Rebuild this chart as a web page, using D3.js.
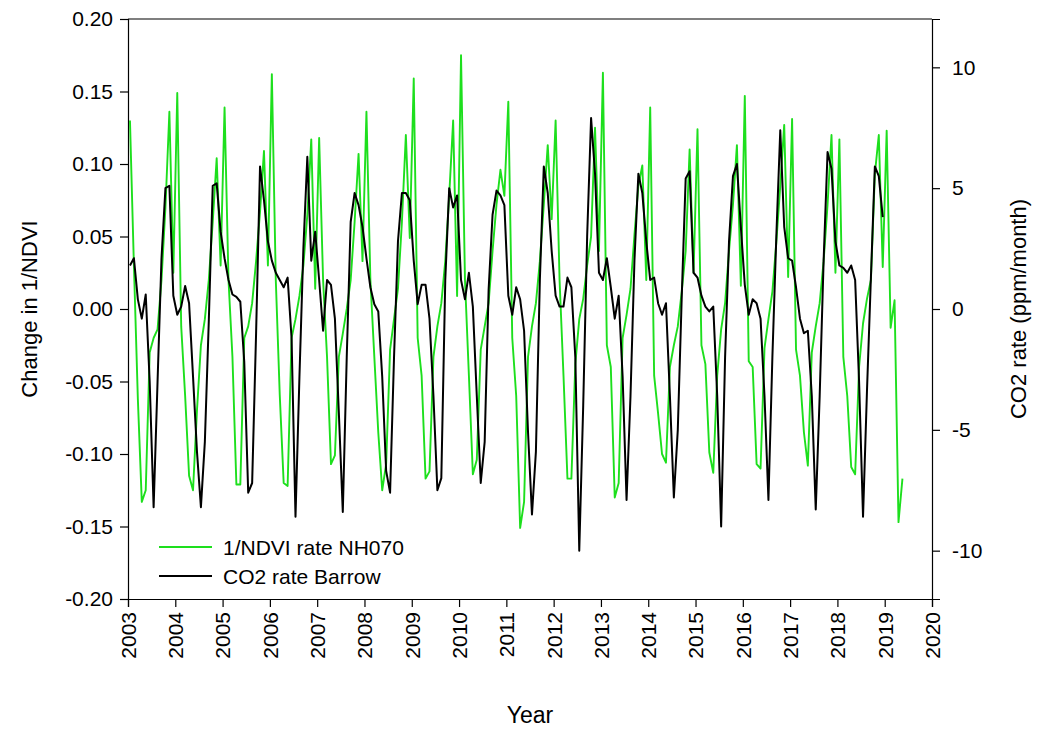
<!DOCTYPE html>
<html>
<head>
<meta charset="utf-8">
<script src="https://cdn.jsdelivr.net/npm/d3@7"></script>
<style>
  body { margin: 0; background: #fff; }
  svg text { font-family: "Liberation Sans", Arial, sans-serif; fill: #000; }
</style>
</head>
<body>
<div id="chart"></div>
<script>
// monthly series, first value = Jan 2003
var startYear = 2003;

var ndviRate = [
  0.130, 0.030, -0.062, -0.133, -0.125, -0.030, -0.020, -0.014, 0.020, 0.070, 0.136, 0.025,
  0.149, -0.012, -0.060, -0.115, -0.125, -0.070, -0.025, -0.007, 0.020, 0.060, 0.104, 0.030,
  0.139, 0.020, -0.033, -0.121, -0.121, -0.020, -0.012, 0.004, 0.033, 0.067, 0.109, 0.030,
  0.162, 0.020, -0.059, -0.120, -0.122, -0.020, -0.007, 0.009, 0.030, 0.065, 0.117, 0.014,
  0.118, 0.020, -0.033, -0.107, -0.101, -0.033, -0.017, 0.000, 0.020, 0.060, 0.107, 0.033,
  0.136, 0.020, -0.033, -0.085, -0.125, -0.107, -0.028, -0.007, 0.014, 0.060, 0.120, 0.049,
  0.159, -0.020, -0.046, -0.117, -0.112, -0.033, -0.012, 0.004, 0.033, 0.078, 0.130, 0.009,
  0.175, 0.020, -0.046, -0.114, -0.104, -0.028, -0.012, 0.004, 0.040, 0.072, 0.096, 0.078,
  0.143, -0.020, -0.060, -0.151, -0.133, -0.033, -0.012, 0.004, 0.033, 0.072, 0.113, 0.062,
  0.130, 0.020, -0.046, -0.117, -0.117, -0.038, -0.007, 0.007, 0.030, 0.050, 0.125, 0.040,
  0.163, -0.025, -0.040, -0.130, -0.120, -0.020, -0.004, 0.014, 0.051, 0.085, 0.099, 0.020,
  0.139, -0.046, -0.072, -0.100, -0.106, -0.040, -0.025, -0.012, 0.012, 0.040, 0.110, 0.025,
  0.124, -0.025, -0.038, -0.099, -0.113, -0.046, -0.014, 0.004, 0.040, 0.072, 0.113, 0.016,
  0.147, -0.036, -0.040, -0.107, -0.110, -0.027, -0.007, 0.012, 0.046, 0.085, 0.127, 0.022,
  0.131, -0.028, -0.046, -0.085, -0.108, -0.030, -0.012, 0.004, 0.033, 0.072, 0.120, 0.025,
  0.117, -0.033, -0.060, -0.109, -0.114, -0.040, -0.010, 0.007, 0.020, 0.093, 0.120, 0.029,
  0.123, -0.013, 0.006, -0.147, -0.117
];

var co2Rate = [
  1.8, 2.1, 0.4, -0.4, 0.6, -3.0, -8.2, -3.0, 2.1, 5.0, 5.1, 0.55,
  -0.24, 0.1, 0.95, 0.24, -2.8, -5.9, -8.2, -5.5, -0.5, 5.1, 5.2, 3.2,
  2.1, 1.2, 0.6, 0.5, 0.3, -2.2, -7.6, -7.2, -1.0, 5.9, 4.5, 2.8,
  2.0, 1.5, 1.2, 0.9, 1.3, -1.2, -8.6, -2.8, 2.5, 6.3, 2.0, 3.2,
  1.2, -0.9, 1.2, 1.0, -0.4, -4.3, -8.4, -2.0, 3.6, 4.8, 4.3, 3.4,
  2.1, 0.9, 0.2, -0.1, -2.8, -6.7, -7.6, -2.0, 2.8, 4.8, 4.8, 4.5,
  2.0, 0.2, 1.0, 1.0, -0.4, -3.6, -7.5, -7.0, 1.2, 5.0, 4.2, 4.7,
  1.2, 0.4, 1.5, 0.1, -3.6, -7.2, -5.5, 0.8, 3.9, 4.9, 4.7, 4.3,
  0.55, -0.24, 0.9, 0.4, -0.9, -5.1, -8.5, -5.9, 1.2, 5.9, 4.8, 2.4,
  0.55, 0.1, 0.1, 1.3, 0.9, -2.0, -10.0, -4.0, 3.0, 7.9, 5.6, 1.5,
  1.2, 2.1, 0.9, -0.4, 0.55, -2.8, -7.9, -3.6, 2.0, 5.6, 4.8, 2.8,
  1.2, 1.3, 0.24, -0.24, 0.24, -3.6, -7.8, -5.0, 0.5, 5.4, 5.7, 1.5,
  1.3, 0.55, 0.1, -0.1, 0.1, -3.6, -9.0, -2.0, 2.8, 5.5, 6.0, 3.4,
  1.0, -0.24, 0.4, 0.24, -0.4, -3.6, -7.9, -2.0, 3.0, 7.4, 3.4, 2.1,
  2.0, 0.9, -0.4, -1.0, -0.9, -3.6, -8.3, -3.6, 2.0, 6.5, 5.8, 2.8,
  1.8, 1.7, 1.5, 1.8, 1.2, -3.0, -8.6, -3.4, 1.3, 5.9, 5.5, 3.8
];

var yearTicks = d3.range(2003, 2021);
var ndviTicks = [-0.20, -0.15, -0.10, -0.05, 0.00, 0.05, 0.10, 0.15, 0.20];
var co2Ticks = [-10, -5, 0, 5, 10];
var seriesNames = ["1/NDVI rate NH070", "CO2 rate Barrow"];
var seriesColors = ["#1ddf1d", "#000000"];

var W = 1037, H = 731;
var margin = { top: 19, right: 105, bottom: 132, left: 128 },
    width = W - margin.left - margin.right,
    height = H - margin.top - margin.bottom;

var svg = d3.select("#chart")
    .append("svg")
    .attr("width", W)
    .attr("height", H)
    .append("g")
    .attr("transform", "translate(" + margin.left + "," + margin.top + ")");

function toYear(i) { return startYear + (i + 0.5) / 12; }
// plain hyphen for negatives, like the original
function hyphen(f) { return function (d) { return f(d).replace("\u2212", "-"); }; }

var x = d3.scaleLinear().domain([2003, 2020]).range([0, width]);
var yL = d3.scaleLinear().domain([-0.2, 0.2]).range([height, 0]);
var yR = d3.scaleLinear().domain([-12, 12]).range([height, 0]);

// frame (top line)
svg.append("line")
    .attr("x1", 0).attr("x2", width).attr("y1", 0).attr("y2", 0)
    .attr("stroke", "#000").attr("stroke-width", 1.2);

// left axis
var gL = svg.append("g")
    .call(d3.axisLeft(yL).tickValues(ndviTicks).tickSize(8).tickPadding(7)
        .tickFormat(hyphen(d3.format(".2f"))));
// right axis
var gR = svg.append("g")
    .attr("transform", "translate(" + width + ",0)")
    .call(d3.axisRight(yR).tickValues(co2Ticks).tickSize(8).tickPadding(12)
        .tickFormat(hyphen(d3.format("d"))));
// bottom axis
var gX = svg.append("g")
    .attr("transform", "translate(0," + height + ")")
    .call(d3.axisBottom(x).tickValues(yearTicks).tickSize(8).tickFormat(d3.format("d")));

gX.selectAll("text")
    .attr("transform", "rotate(-90)")
    .attr("x", -13).attr("y", 0).attr("dy", "0.35em")
    .style("text-anchor", "end");

[gL, gR, gX].forEach(function (g) {
    g.select(".domain").attr("stroke", "#000").attr("stroke-width", 1.2);
    g.selectAll(".tick line").attr("stroke", "#000").attr("stroke-width", 1.2);
    g.selectAll("text").style("font-size", "21px").attr("fill", "#000");
});

// axis titles
svg.append("text")
    .attr("transform", "translate(-91," + (height / 2) + ") rotate(-90)")
    .attr("text-anchor", "middle")
    .style("font-size", "22px")
    .text("Change in 1/NDVI");

svg.append("text")
    .attr("transform", "translate(" + (width + 94) + "," + (height / 2) + ") rotate(-90)")
    .attr("text-anchor", "middle")
    .style("font-size", "22px")
    .text("CO2 rate (ppm/month)");

svg.append("text")
    .attr("x", width / 2).attr("y", height + 124)
    .attr("text-anchor", "middle")
    .style("font-size", "23px")
    .text("Year");

// 1/NDVI line
svg.append("path")
    .datum(ndviRate)
    .attr("fill", "none")
    .attr("stroke", seriesColors[0])
    .attr("stroke-width", 1.9)
    .attr("stroke-linejoin", "round")
    .attr("d", d3.line()
        .x(function (d, i) { return x(toYear(i)); })
        .y(function (d) { return yL(d); }));

// CO2 line
svg.append("path")
    .datum(co2Rate)
    .attr("fill", "none")
    .attr("stroke", seriesColors[1])
    .attr("stroke-width", 2)
    .attr("stroke-linejoin", "round")
    .attr("d", d3.line()
        .x(function (d, i) { return x(toYear(i)); })
        .y(function (d) { return yR(d); }));

// legend
var legend = svg.append("g").attr("transform", "translate(31,528)");
seriesNames.forEach(function (name, i) {
    var row = legend.append("g").attr("transform", "translate(0," + (i * 29) + ")");
    row.append("line")
        .attr("x1", 0).attr("x2", 53).attr("y1", 0).attr("y2", 0)
        .attr("stroke", seriesColors[i]).attr("stroke-width", i ? 2 : 1.9);
    row.append("text")
        .attr("x", 64).attr("y", 0).attr("dy", "0.36em")
        .style("font-size", "21px")
        .text(name);
});
</script>
</body>
</html>
